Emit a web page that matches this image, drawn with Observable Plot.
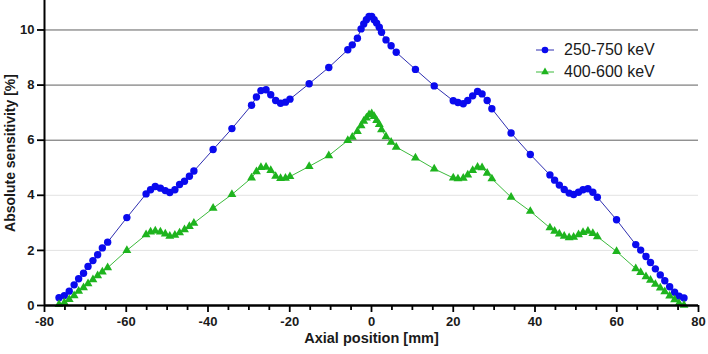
<!DOCTYPE html>
<html>
<head>
<meta charset="utf-8">
<script src="https://cdn.jsdelivr.net/npm/d3@7"></script>
<script src="https://cdn.jsdelivr.net/npm/@observablehq/plot@0.6"></script>
<style>
  html, body { margin: 0; padding: 0; background: #fff; }
  #wrap { position: relative; width: 708px; height: 354px; font-family: "Liberation Sans", Arial, sans-serif; }
  #legend { position: absolute; left: 535px; top: 0; }
  .row { position: absolute; left: 0; display: flex; align-items: center; white-space: nowrap; font-size: 16px; color: #1a1a1a; height: 18px; }
  .row svg { display: block; margin-right: 9px; }
</style>
</head>
<body>
<div id="wrap"></div>
<script>
// Axial positions [mm] (shared by both energy windows)
const positions = [
  -76.45, -75.15, -73.95, -72.75, -71.65, -70.45, -69.35, -68.15, -67.0, -65.85, -64.55,
  -59.85,
  -55.15, -54.05, -52.9, -51.65, -50.45, -49.35, -48.1, -46.95, -45.75, -44.55, -43.45,
  -38.75, -34.15,
  -29.35, -28.15, -27.05, -25.8, -24.65, -23.45, -22.25, -21.05, -19.95,
  -15.25, -10.45,
  -5.8, -4.7, -3.45, -2.55, -1.9, -1.25, -0.6, 0.05, 0.65, 1.25, 1.9, 2.45, 3.55, 4.8, 6.05,
  10.75, 15.35,
  20.0, 21.15, 22.45, 23.55, 24.75, 25.95, 27.05, 28.3, 29.45,
  34.15, 38.85,
  43.65, 44.8, 45.95, 47.15, 48.35, 49.45, 50.65, 51.75, 52.95, 54.15, 55.25,
  59.95,
  64.65, 65.85, 67.15, 68.25, 69.45, 70.65, 71.75, 72.95, 74.15, 75.25, 76.45
];

// Absolute sensitivity [%], 250-750 keV
const wide = [
  0.28, 0.36, 0.52, 0.75, 0.97, 1.17, 1.42, 1.63, 1.84, 2.09, 2.30,
  3.19,
  4.05, 4.20, 4.32, 4.26, 4.17, 4.10, 4.20, 4.39, 4.51, 4.69, 4.88,
  5.66, 6.42,
  7.27, 7.57, 7.80, 7.83, 7.65, 7.44, 7.34, 7.38, 7.49,
  8.05, 8.64,
  9.28, 9.46, 9.70, 10.04, 10.22, 10.37, 10.49, 10.49, 10.37, 10.25, 10.10, 9.92, 9.64, 9.43, 9.19,
  8.57, 7.97,
  7.43, 7.37, 7.32, 7.44, 7.61, 7.77, 7.68, 7.44, 7.14,
  6.26, 5.48,
  4.74, 4.55, 4.37, 4.21, 4.08, 4.03, 4.11, 4.20, 4.24, 4.11, 3.93,
  3.11,
  2.21, 2.01, 1.78, 1.56, 1.33, 1.11, 0.90, 0.68, 0.48, 0.34, 0.27
];

// Absolute sensitivity [%], 400-600 keV
const narrow = [
  0.04, 0.10, 0.22, 0.36, 0.52, 0.65, 0.79, 0.94, 1.08, 1.22, 1.37,
  2.00,
  2.57, 2.67, 2.71, 2.67, 2.60, 2.52, 2.55, 2.64, 2.75, 2.87, 2.99,
  3.53, 4.03,
  4.63, 4.86, 5.01, 5.02, 4.90, 4.69, 4.61, 4.62, 4.68,
  5.05, 5.44,
  5.99, 6.11, 6.32, 6.53, 6.69, 6.81, 6.93, 6.96, 6.86, 6.72, 6.57, 6.38, 6.13, 5.93, 5.75,
  5.36, 4.96,
  4.63, 4.60, 4.62, 4.74, 4.90, 5.02, 5.00, 4.80, 4.60,
  3.93, 3.42,
  2.82, 2.70, 2.60, 2.52, 2.46, 2.48, 2.57, 2.65, 2.70, 2.62, 2.50,
  1.96,
  1.34, 1.20, 1.05, 0.92, 0.77, 0.64, 0.50, 0.35, 0.21, 0.08, 0.01
];

const seriesNames = ["250-750 keV", "400-600 keV"];
const xTicks = [-80, -60, -40, -20, 0, 20, 40, 60, 80];
const xMinorTicks = [-75, -70, -65, -55, -50, -45, -35, -30, -25, -15, -10, -5, 5, 10, 15, 25, 30, 35, 45, 50, 55, 65, 70, 75];
const yTicks = [0, 2, 4, 6, 8, 10];
const gridLight = [2, 4];
const gridDark = [6, 8, 10];
const xTitle = "Axial position [mm]";
const yTitle = "Absolute sensitivity [%]";

const blueColor = "#0a0aee";
const blueLine = "#2e2eb0";
const greenColor = "#1eb41e";
const greenLine = "#3cba3c";
const rBlue = 3.7;
const rGreen = 3.3;

const wideData = positions.map((x, i) => ({x, y: wide[i]}));
const narrowData = positions.map((x, i) => ({x, y: narrow[i]}));

const fmt = d => String(d); // ASCII hyphen minus

const chart = Plot.plot({
  width: 708,
  height: 354,
  marginLeft: 44,
  marginRight: 10,
  marginTop: 0,
  marginBottom: 49,
  style: {fontFamily: "'Liberation Sans', Arial, sans-serif", background: "#fff", overflow: "visible"},
  x: {domain: [-80, 80]},
  y: {domain: [0, 11.07]},
  marks: [
    Plot.ruleY(gridLight, {stroke: "#e2e2e2", strokeWidth: 1}),
    Plot.ruleY(gridDark, {stroke: "#606060", strokeWidth: 1}),
    Plot.line(wideData, {x: "x", y: "y", stroke: blueLine, strokeWidth: 1}),
    Plot.line(narrowData, {x: "x", y: "y", stroke: greenLine, strokeWidth: 1}),
    Plot.dot(wideData, {x: "x", y: "y", r: rBlue, fill: blueColor, stroke: "none", symbol: "circle"}),
    Plot.dot(narrowData, {x: "x", y: "y", r: rGreen, fill: greenColor, stroke: "none", symbol: "triangle"}),
    Plot.axisX({ticks: xMinorTicks, tickSize: 5, strokeWidth: 1.8, stroke: "#000", tickFormat: () => "", label: null}),
    Plot.axisX({ticks: xTicks, tickSize: 7, tickPadding: 4, strokeWidth: 1.8, stroke: "#000", tickFormat: fmt,
      fontSize: 13, fontWeight: "bold", fill: "#1a1a1a", label: null}),
    Plot.axisY({ticks: yTicks, tickSize: 7, tickPadding: 3, strokeWidth: 1.8, stroke: "#000", tickFormat: fmt,
      fontSize: 13, fontWeight: "bold", fill: "#1a1a1a", label: null}),
    Plot.ruleX([-80], {stroke: "#000", strokeWidth: 2}),
    Plot.ruleY([0], {stroke: "#000", strokeWidth: 2.4}),
    Plot.text([xTitle], {frameAnchor: "bottom", dy: 33, text: d => d, textAnchor: "middle", fontSize: 14.5, fontWeight: "bold", fill: "#1a1a1a", lineAnchor: "middle"}),
    Plot.text([yTitle], {frameAnchor: "left", dx: -34, text: d => d, textAnchor: "middle", rotate: -90, fontSize: 14, fontWeight: "bold", fill: "#1a1a1a", lineAnchor: "middle"})
  ]
});

const wrap = document.getElementById("wrap");
wrap.appendChild(chart);

// Legend
const legend = document.createElement("div");
legend.id = "legend";
const rows = [
  {name: seriesNames[0], top: 41, line: blueLine, fill: blueColor, shape: "circle"},
  {name: seriesNames[1], top: 63, line: greenLine, fill: greenColor, shape: "triangle"}
];
for (const r of rows) {
  const row = document.createElement("div");
  row.className = "row";
  row.style.top = r.top + "px";
  const marker = r.shape === "circle"
    ? `<circle cx="10" cy="9" r="3.3" fill="${r.fill}"/>`
    : `<path d="${d3.symbol(d3.symbolTriangle, Math.PI * 2.9 * 2.9)()}" transform="translate(10,9)" fill="${r.fill}"/>`;
  row.innerHTML = `<svg width="20" height="18"><line x1="1" x2="19" y1="9" y2="9" stroke="${r.line}" stroke-width="1"/>${marker}</svg><span>${r.name}</span>`;
  legend.appendChild(row);
}
wrap.appendChild(legend);
</script>
</body>
</html>
